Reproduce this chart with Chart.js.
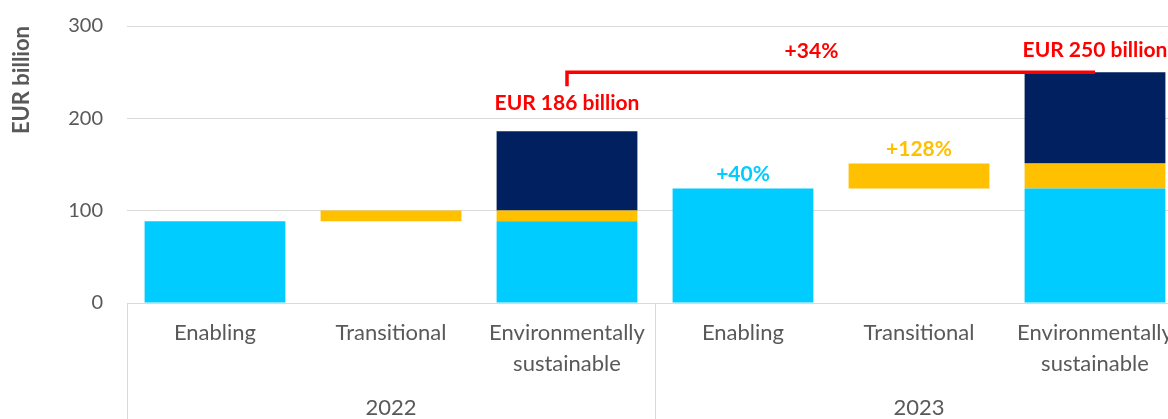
<!DOCTYPE html>
<html><head><meta charset="utf-8">
<script src="https://cdn.jsdelivr.net/npm/chart.js@4"></script>
<style>html,body{margin:0;padding:0;overflow:hidden;background:#fff;}</style>
</head><body>
<canvas id="c" width="1190" height="419"></canvas>
<script>
// ---- data ----
const categories = [["Enabling"], ["Transitional"], ["Environmentally", "sustainable"], ["Enabling"], ["Transitional"], ["Environmentally", "sustainable"]];
const years = ["2022", "2023"];
const enabling = [88.6, null, 88.6, 124, null, 124];
const transitionalBase = [null, 88.6, null, null, 124, null];
const transitional = [null, 11.6, 11.6, null, 27, 27];
const otherSustainable = [null, null, 85.8, null, null, 99];
const yTicks = [0, 100, 200, 300];
const totalLabels = ["EUR 186 billion", "EUR 250 billion"];
const totalValues = [186, 250];
const totalIndex = [2, 5];
const growthTexts = ["+40%", "+128%"];
const growthIndex = [3, 4];
const growthValues = [124, 151];
const totalGrowth = "+34%";

const CYAN = "#00CCFF", YELLOW = "#FFC000", NAVY = "#00205F", RED = "#FF0000", GREY = "#595959", GRID = "#D9D9D9";
const FONT = "Lato, 'Open Sans', sans-serif";

const annotations = {
  id: "annotations",
  afterDatasetsDraw(chart) {
    const { ctx, scales: { x, y } } = chart;
    ctx.save();
    ctx.textAlign = "center";
    ctx.textBaseline = "middle";
    ctx.font = "bold 21px " + FONT;
    ctx.fillStyle = RED;
    const offs = [28, 22];
    totalLabels.forEach((t, i) => {
      ctx.fillText(t, x.getPixelForValue(totalIndex[i]), y.getPixelForValue(totalValues[i]) - offs[i]);
    });
    const gColors = [CYAN, YELLOW];
    growthTexts.forEach((t, i) => {
      ctx.fillStyle = gColors[i];
      ctx.fillText(t, x.getPixelForValue(growthIndex[i]), y.getPixelForValue(growthValues[i]) - 14);
    });
    // bracket
    const x1 = x.getPixelForValue(totalIndex[0]);
    const x2 = x.getPixelForValue(totalIndex[1]);
    const yl = y.getPixelForValue(totalValues[1]);
    ctx.strokeStyle = RED;
    ctx.lineWidth = 3.5;
    ctx.beginPath();
    ctx.moveTo(x1, yl + 14);
    ctx.lineTo(x1, yl);
    ctx.lineTo(x2, yl);
    ctx.stroke();
    ctx.fillStyle = RED;
    ctx.fillText(totalGrowth, x1 + 0.463 * (x2 - x1), yl - 21);
    ctx.restore();
  },
  afterDraw(chart) {
    const { ctx, scales: { x }, chartArea } = chart;
    ctx.save();
    ctx.strokeStyle = GRID;
    ctx.lineWidth = 1;
    const xs = [chartArea.left, (x.getPixelForValue(2) + x.getPixelForValue(3)) / 2, chartArea.right];
    xs.forEach(px => {
      const p = Math.round(px) + 0.5;
      ctx.beginPath();
      ctx.moveTo(p, chartArea.bottom);
      ctx.lineTo(p, chart.height);
      ctx.stroke();
    });
    ctx.restore();
  }
};

new Chart(document.getElementById("c"), {
  type: "bar",
  data: {
    labels: categories,
    datasets: [
      { label: "base", data: transitionalBase, backgroundColor: "rgba(0,0,0,0)" },
      { label: "Enabling", data: enabling, backgroundColor: CYAN },
      { label: "Transitional", data: transitional, backgroundColor: YELLOW },
      { label: "Other", data: otherSustainable, backgroundColor: NAVY }
    ]
  },
  options: {
    responsive: false,
    animation: false,
    events: [],
    layout: { padding: { top: 26, right: 7, left: 0, bottom: 0 } },
    datasets: { bar: { barPercentage: 0.8, categoryPercentage: 1.0, borderWidth: 0 } },
    plugins: { legend: { display: false }, tooltip: { enabled: false } },
    scales: {
      x: {
        stacked: true,
        offset: true,
        grid: { display: false, drawTicks: false },
        border: { display: false },
        ticks: { color: GREY, font: { family: FONT, size: 22, lineHeight: 1.4 }, padding: 15, maxRotation: 0, autoSkip: false },
        afterFit(s) { s.height = 80; }
      },
      x2: {
        type: "category",
        labels: years,
        offset: true,
        position: "bottom",
        grid: { display: false, drawTicks: false },
        border: { display: false },
        ticks: { color: GREY, font: { family: FONT, size: 22 }, padding: 12, maxRotation: 0 },
        afterFit(s) { s.height = 36; }
      },
      y: {
        stacked: true,
        min: 0, max: 300,
        afterBuildTicks(s) { s.ticks = yTicks.map(v => ({ value: v })); },
        grid: { color: GRID, lineWidth: 1, drawTicks: true, tickLength: 22, tickColor: "rgba(0,0,0,0)" },
        border: { display: false },
        ticks: { color: GREY, font: { family: FONT, size: 20 }, padding: 2 },
        title: { display: true, text: "EUR billion", align: "end", color: GREY, font: { family: FONT, size: 22, weight: "bold" }, padding: { top: 9, bottom: 0 } },
        afterFit(s) { s.width = 127; }
      }
    }
  },
  plugins: [annotations]
});
</script>
</body></html>
